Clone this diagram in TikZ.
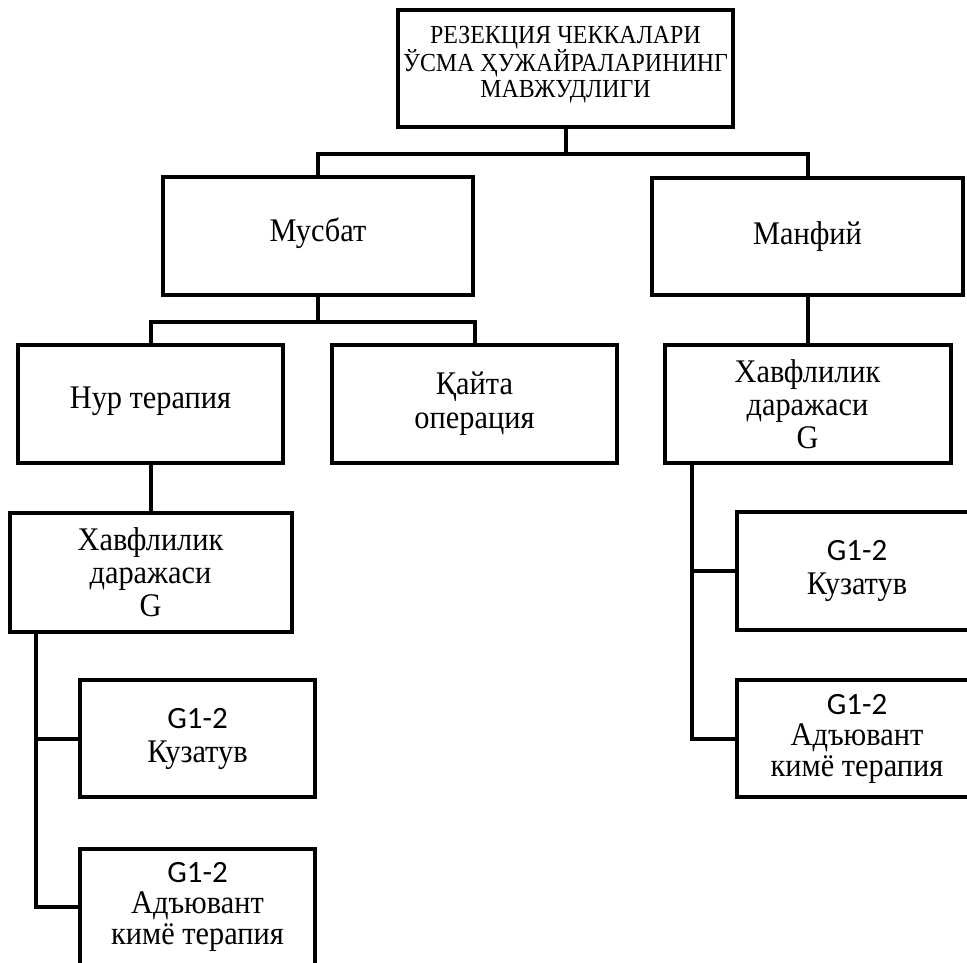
\documentclass[tikz,border=0pt]{standalone}
\usepackage{fontspec}
\setmainfont{Liberation Serif}[FakeStretch=0.92]
\newfontfamily\calfont{Carlito}
\begin{document}
\begin{tikzpicture}[x=1pt,y=-1pt,
  box/.style={draw, line width=4pt, rectangle, inner sep=0pt, align=center,
    font=\fontsize{33}{34}\selectfont},
  conn/.style={line width=4pt}]
\useasboundingbox (0,0) rectangle (967,962);
\clip (0,0) rectangle (967,962);
\fill[white] (0,0) rectangle (967,962);

\node[box, minimum width=335pt, minimum height=117pt, font=\fontsize{26}{26}\selectfont] (top) at (565.5,68.5)
  {РЕЗЕКЦИЯ ЧЕККАЛАРИ\\ЎСМА ҲУЖАЙРАЛАРИНИНГ\\МАВЖУДЛИГИ\\[-13pt]};
\node[box, minimum width=310pt, minimum height=118pt] (mus) at (318,236) {Мусбат\\[-22pt]};
\node[box, minimum width=311pt, minimum height=117pt] (man) at (807.5,236.5) {Манфий};
\node[box, minimum width=265pt, minimum height=118pt] (nur) at (150.5,404) {Нур терапия\\[-22pt]};
\node[box, minimum width=285pt, minimum height=118pt] (qay) at (474.5,404) {Қайта\\операция};
\node[box, minimum width=286pt, minimum height=118pt, font=\fontsize{33}{33}\selectfont] (hr) at (807.5,404) {Хавфлилик\\даражаси\\G};
\node[box, minimum width=282pt, minimum height=119pt, font=\fontsize{33}{33}\selectfont] (hl) at (150.5,572.5) {Хавфлилик\\даражаси\\G};
\node[box, minimum width=235pt, minimum height=117pt] (kl) at (197.5,738.5) {{\calfont\fontsize{31}{34}\selectfont G1-2}\\Кузатув};
\node[box, minimum width=235pt, minimum height=117pt, font=\fontsize{33}{31}\selectfont] (al) at (197.5,907) {{\calfont\fontsize{31}{31}\selectfont G1-2}\\Адъювант\\кимё терапия};
\node[box, minimum width=240pt, minimum height=118pt] (kr) at (857,571) {{\calfont\fontsize{31}{34}\selectfont G1-2}\\Кузатув};
\node[box, minimum width=240pt, minimum height=117pt, font=\fontsize{33}{31}\selectfont] (ar) at (857,738.5) {{\calfont\fontsize{31}{31}\selectfont G1-2}\\Адъювант\\кимё терапия};

\draw[conn] (top.south) -- ++(0,25) -| (mus.north);
\draw[conn] (top.south) ++(0,25) -| (man.north);
\draw[conn] (mus.south) -- ++(0,25) -| (nur.north);
\draw[conn] (mus.south) ++(0,25) -| (qay.north);
\draw[conn] (nur.south) -- (nur.south |- hl.north);
\draw[conn] (man.south) -- (man.south |- hr.north);
\draw[conn] ([xshift=28pt]hl.south west) |- (kl.west);
\draw[conn] ([xshift=28pt]hl.south west) |- (al.west);
\draw[conn] ([xshift=29pt]hr.south west) |- (kr.west);
\draw[conn] ([xshift=29pt]hr.south west) |- (ar.west);
\end{tikzpicture}
\end{document}
